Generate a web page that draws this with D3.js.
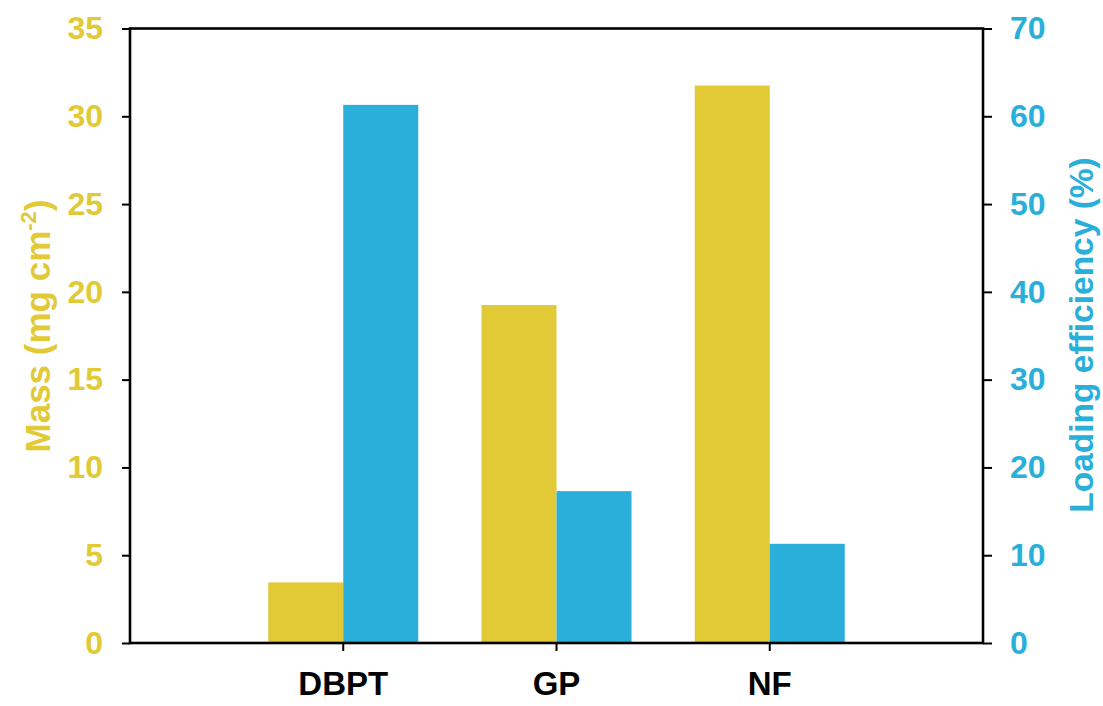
<!DOCTYPE html>
<html>
<head>
<meta charset="utf-8">
<script src="https://cdn.jsdelivr.net/npm/d3@7"></script>
<style>
  html, body { margin: 0; padding: 0; background: #fff; }
  svg { display: block; }
  text { font-family: "Liberation Sans", Arial, sans-serif; font-weight: bold; }
</style>
</head>
<body>
<svg id="chart" width="1103" height="706"></svg>
<script>
// Samples and measured values
const categories = ["DBPT", "GP", "NF"];
const massValues = [3.45, 19.25, 31.75];        // mg cm^-2
const efficiencyValues = [61.3, 17.3, 11.3];    // %
const massTicks = [0, 5, 10, 15, 20, 25, 30, 35];
const efficiencyTicks = [0, 10, 20, 30, 40, 50, 60, 70];

const yellow = "#E2C936";
const blue = "#29AFD9";

const svg = d3.select("#chart");
const plotLeft = 130, plotRight = 983, plotTop = 28.5, plotBottom = 643;

const x = d3.scaleBand().domain(categories).range([plotLeft, plotRight])
  .paddingInner(0).paddingOuter(0.5);
const series = ["mass", "eff"];
const x1 = d3.scaleBand().domain(series).range([0, x.bandwidth()])
  .paddingInner(0).paddingOuter(0.4217);
const yMass = d3.scaleLinear().domain([0, 35]).range([plotBottom, plotTop]);
const yEff = d3.scaleLinear().domain([0, 70]).range([plotBottom, plotTop]);

const rows = categories.map((c, i) => ({ c, mass: massValues[i], eff: efficiencyValues[i] }));

// Bars
const g = svg.append("g");
g.selectAll("rect.mass").data(rows).join("rect")
  .attr("class", "mass")
  .attr("x", d => x(d.c) + x1("mass"))
  .attr("width", x1.bandwidth())
  .attr("y", d => yMass(d.mass))
  .attr("height", d => plotBottom - yMass(d.mass))
  .attr("fill", yellow);
g.selectAll("rect.eff").data(rows).join("rect")
  .attr("class", "eff")
  .attr("x", d => x(d.c) + x1("eff"))
  .attr("width", x1.bandwidth())
  .attr("y", d => yEff(d.eff))
  .attr("height", d => plotBottom - yEff(d.eff))
  .attr("fill", blue);

// Frame
svg.append("rect")
  .attr("x", plotLeft).attr("y", plotTop)
  .attr("width", plotRight - plotLeft).attr("height", plotBottom - plotTop)
  .attr("fill", "none").attr("stroke", "#000").attr("stroke-width", 2.6);

function styleTicks(axis, color, size) {
  axis.select(".domain").remove();
  axis.selectAll(".tick line").attr("stroke", "#000").attr("stroke-width", 2);
  axis.selectAll(".tick text").attr("fill", color).attr("font-size", size)
    .style("font-family", "Liberation Sans, Arial, sans-serif").style("font-weight", "bold");
}

// Left axis
const axL = svg.append("g").attr("transform", `translate(${plotLeft},0)`)
  .call(d3.axisLeft(yMass).tickValues(massTicks).tickSize(8).tickPadding(19).tickFormat(d3.format("d")));
styleTicks(axL, yellow, 32);

// Right axis
const axR = svg.append("g").attr("transform", `translate(${plotRight},0)`)
  .call(d3.axisRight(yEff).tickValues(efficiencyTicks).tickSize(9).tickPadding(18).tickFormat(d3.format("d")));
styleTicks(axR, blue, 32);

// Bottom axis
const axB = svg.append("g").attr("transform", `translate(0,${plotBottom})`)
  .call(d3.axisBottom(x).tickSize(8).tickPadding(21));
styleTicks(axB, "#000", 33);

// Axis titles
const tl = svg.append("text")
  .attr("transform", `translate(50,326) rotate(-90)`)
  .attr("text-anchor", "middle")
  .attr("fill", yellow).attr("font-size", 35);
tl.append("tspan").text("Mass (mg cm");
tl.append("tspan").attr("dy", -14).attr("font-size", 22).text("-2");
tl.append("tspan").attr("dy", 14).text(")");

svg.append("text")
  .attr("transform", `translate(1093,335) rotate(-90)`)
  .attr("text-anchor", "middle")
  .attr("fill", blue).attr("font-size", 33.5)
  .text("Loading efficiency (%)");
</script>
</body>
</html>
